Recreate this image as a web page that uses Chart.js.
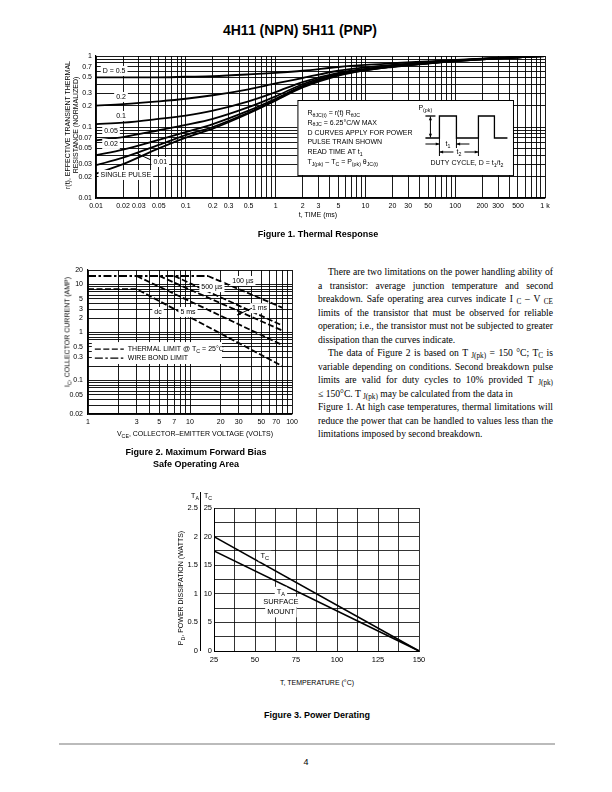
<!DOCTYPE html>
<html>
<head>
<meta charset="utf-8">
<title>4H11 (NPN) 5H11 (PNP)</title>
<script src="https://cdn.jsdelivr.net/npm/chart.js@4.4.1/dist/chart.umd.min.js"></script>
<style>
  body { margin: 0; background: #fff; }
  #page { position: relative; width: 612px; height: 792px; overflow: hidden; color: #000;
          font-family: "Liberation Sans Narrow", "Liberation Sans", Arial, sans-serif; }
  canvas { position: absolute; }
  .t { position: absolute; white-space: nowrap; transform: translate(-50%, -50%); }
  .rot { position: absolute; white-space: nowrap; text-align: center; transform: translate(-50%, -50%) rotate(-90deg); }
  .cap { font-family: "Liberation Sans", Arial, sans-serif; font-weight: bold; font-size: 9px; }
  .ax { font-size: 7px; }
  sub { font-size: 75%; vertical-align: -2px; line-height: 0; }
  #title { position: absolute; left: 300px; top: 30px; transform: translate(-50%, -50%);
           font-family: "Liberation Sans", Arial, sans-serif; font-weight: bold; font-size: 14px; white-space: nowrap; }
  #para { position: absolute; left: 318px; top: 265px; width: 235px;
          font-family: "Liberation Serif", "Times New Roman", serif; font-size: 9.6px; line-height: 13.5px; }
  #para div { text-align: justify; text-align-last: justify; }
  #para div.last { text-align-last: left; }
  #para div.ind { text-indent: 10px; }
  #footline { position: absolute; left: 59px; top: 743px; width: 496px; height: 2px; background: #bbb; }
</style>
</head>
<body>
<div id="page">
  <div id="title">4H11 (NPN) 5H11 (PNP)</div>

  <canvas id="fig1" width="520" height="170" style="left:40px; top:46px;"></canvas>
  <div class="rot ax" style="left:67px; top:125px;">r(t), EFFECTIVE TRANSIENT THERMAL</div>
  <div class="rot ax" style="left:75px; top:125px;">RESISTANCE (NORMALIZED)</div>
  <div class="t ax" style="left:318px; top:214px;">t, TIME (ms)</div>
  <div class="t cap" style="left:318px; top:234px;">Figure 1. Thermal Response</div>

  <canvas id="fig2" width="262" height="170" style="left:40px; top:260px;"></canvas>
  <div class="rot ax" style="left:67px; top:332px;">I<sub>C</sub>, COLLECTOR CURRENT (AMP)</div>
  <div class="t ax" style="left:195px; top:433px;">V<sub>CE</sub>, COLLECTOR&ndash;EMITTER VOLTAGE (VOLTS)</div>
  <div class="t cap" style="left:196px; top:452px;">Figure 2. Maximum Forward Bias</div>
  <div class="t cap" style="left:196px; top:464px;">Safe Operating Area</div>

  <div id="para">
    <div class="ind">There are two limitations on the power handling ability of</div>
    <div>a transistor: average junction temperature and second</div>
    <div>breakdown. Safe operating area curves indicate I <sub>C</sub> &ndash; V <sub>CE</sub></div>
    <div>limits of the transistor that must be observed for reliable</div>
    <div>operation; i.e., the transistor must not be subjected to greater</div>
    <div class="last">dissipation than the curves indicate.</div>
    <div class="ind">The data of Figure 2 is based on T <sub>J(pk)</sub> = 150 &deg;C; T<sub>C</sub> is</div>
    <div>variable depending on conditions. Second breakdown pulse</div>
    <div>limits are valid for duty cycles to 10% provided T <sub>J(pk)</sub></div>
    <div class="last">&le; 150&deg;C. T <sub>J(pk)</sub> may be calculated from the data in</div>
    <div>Figure 1. At high case temperatures, thermal limitations will</div>
    <div>reduce the power that can be handled to values less than the</div>
    <div class="last">limitations imposed by second breakdown.</div>
  </div>

  <canvas id="fig3" width="265" height="190" style="left:170px; top:480px;"></canvas>
  <div class="t ax" style="left:195px; top:495px;">T<sub>A</sub></div>
  <div class="t ax" style="left:208px; top:495px;">T<sub>C</sub></div>
  <div class="rot ax" style="left:180px; top:588px;">P<sub>D</sub>, POWER DISSIPATION (WATTS)</div>
  <div class="t ax" style="left:317px; top:682px;">T, TEMPERATURE (&deg;C)</div>
  <div class="t cap" style="left:317px; top:715px;">Figure 3. Power Derating</div>

  <div id="footline"></div>
  <div class="t" style="left:306px; top:762px; font-size:9px; font-family:'Liberation Sans',Arial,sans-serif;">4</div>
</div>

<script>
var FONT = '"Liberation Sans Narrow", "Liberation Sans", Arial, sans-serif';

// ================================
// DATA - Figure 1, thermal response (t in ms, r(t) normalized)
// ================================
var thermTime   = [0.01, 0.02, 0.05, 0.1, 0.2, 0.5, 1, 2, 5, 10, 20, 50, 100, 200, 500, 1000];
var thermD05    = [0.50, 0.50, 0.50, 0.51, 0.52, 0.55, 0.58, 0.62, 0.70, 0.75, 0.79, 0.84, 0.88, 0.92, 0.97, 1.0];
var thermD02    = [0.20, 0.21, 0.23, 0.25, 0.28, 0.34, 0.41, 0.49, 0.62, 0.69, 0.75, 0.82, 0.87, 0.91, 0.96, 1.0];
var thermD01    = [0.11, 0.115, 0.13, 0.145, 0.17, 0.23, 0.31, 0.43, 0.58, 0.66, 0.73, 0.80, 0.86, 0.91, 0.96, 1.0];
var thermD005   = [0.065, 0.072, 0.09, 0.107, 0.13, 0.19, 0.27, 0.40, 0.56, 0.65, 0.72, 0.80, 0.86, 0.91, 0.96, 1.0];
var thermD002   = [0.040, 0.048, 0.066, 0.085, 0.11, 0.17, 0.25, 0.38, 0.55, 0.64, 0.71, 0.79, 0.85, 0.90, 0.96, 1.0];
var thermD001   = [0.029, 0.037, 0.056, 0.077, 0.10, 0.16, 0.24, 0.37, 0.54, 0.63, 0.71, 0.79, 0.85, 0.90, 0.96, 1.0];
var thermSingle = [0.022, 0.030, 0.050, 0.071, 0.095, 0.155, 0.235, 0.36, 0.53, 0.63, 0.70, 0.78, 0.85, 0.90, 0.96, 1.0];
var thermTLabels = [0.01, 0.02, 0.03, 0.05, 0.1, 0.2, 0.3, 0.5, 1, 2, 3, 5, 10, 20, 30, 50, 100, 200, 300, 500, 1000];
var thermRLabels = [0.01, 0.02, 0.03, 0.05, 0.07, 0.1, 0.2, 0.3, 0.5, 0.7, 1];

// ================================
// DATA - Figure 2, safe operating area (V in volts, I in amps)
// ================================
var soaWireV  = [1, 15],    soaWireI  = [15, 15];
var soa100usV = [15, 80],   soa100usI = [15, 3.3];
var soa500usV = [7, 80],    soa500usI = [15, 1.4];
var soa1msV   = [5, 80],    soa1msI   = [15, 1.1];
var soa5msV   = [3, 80],    soa5msI   = [15, 0.55];
var soaDcV    = [1, 3, 80], soaDcI    = [8, 8, 0.2];
var soaVLabels = [1, 3, 5, 7, 10, 20, 30, 50, 70, 100];
var soaILabels = [0.02, 0.05, 0.1, 0.3, 0.5, 1, 2, 3, 5, 10, 20];

// ================================
// DATA - Figure 3, power derating
// ================================
var derateTemp = [25, 150];
var derateTC   = [20, 0];      // watts, case temperature
var derateTA   = [1.75, 0];    // watts, ambient (surface mount)
var derateTLabels  = [25, 50, 75, 100, 125, 150];
var derateTCLabels = [0, 5, 10, 15, 20, 25];
var derateTALabels = [0, 0.5, 1, 1.5, 2, 2.5];

// ================================
// HELPERS
// ================================
function pts(xs, ys) {
  return xs.map(function (x, i) { return { x: x, y: ys[i] }; });
}

function logGrid(min, max) {
  var out = [];
  for (var e = Math.floor(Math.log10(min)); e <= Math.ceil(Math.log10(max)); e++) {
    for (var m = 1; m <= 9; m++) {
      var v = parseFloat((m * Math.pow(10, e)).toPrecision(6));
      if (v >= min * 0.999 && v <= max * 1.001) out.push(v);
    }
  }
  return out;
}

function hasTick(list, v) {
  return list.some(function (l) { return Math.abs(l - v) <= Math.max(Math.abs(l), 1e-9) * 1e-6; });
}

function logAxis(min, max, labels, fmt, pad, fit) {
  return {
    type: 'logarithmic', min: min, max: max,
    afterBuildTicks: function (s) { s.ticks = logGrid(min, max).map(function (v) { return { value: v }; }); },
    ticks: { autoSkip: false, maxRotation: 0, minRotation: 0, padding: pad, color: '#000', font: { size: 7 },
             callback: function (v) { return hasTick(labels, v) ? fmt(v) : ''; } },
    grid: { color: '#000', lineWidth: 0.9, drawTicks: false },
    border: { display: true, color: '#000', width: 1.2 },
    afterFit: fit
  };
}

// draw text made of [string, isSubscript] parts
function drawParts(ctx, parts, x, y, size, align, bg) {
  var w = 0;
  parts.forEach(function (p) {
    ctx.font = (p[1] ? size * 0.75 : size) + 'px ' + FONT;
    w += ctx.measureText(p[0]).width;
  });
  var sx = align === 'center' ? x - w / 2 : (align === 'right' ? x - w : x);
  if (bg) {
    ctx.fillStyle = '#fff';
    ctx.fillRect(sx - 2, y - size / 2 - 1.5, w + 4, size + 3);
  }
  ctx.fillStyle = '#000';
  ctx.textAlign = 'left';
  ctx.textBaseline = 'middle';
  parts.forEach(function (p) {
    ctx.font = (p[1] ? size * 0.75 : size) + 'px ' + FONT;
    ctx.fillText(p[0], sx, y + (p[1] ? size * 0.3 : 0));
    sx += ctx.measureText(p[0]).width;
  });
}

function line(ctx, x1, y1, x2, y2) {
  ctx.beginPath(); ctx.moveTo(x1, y1); ctx.lineTo(x2, y2); ctx.stroke();
}

function arrow(ctx, x1, y1, x2, y2, s) {
  line(ctx, x1, y1, x2, y2);
  var a = Math.atan2(y2 - y1, x2 - x1);
  ctx.beginPath();
  ctx.moveTo(x2, y2);
  ctx.lineTo(x2 - s * Math.cos(a - 0.4), y2 - s * Math.sin(a - 0.4));
  ctx.lineTo(x2 - s * Math.cos(a + 0.4), y2 - s * Math.sin(a + 0.4));
  ctx.closePath(); ctx.fill();
}

Chart.defaults.font.family = FONT;
Chart.defaults.color = '#000';

var baseOptions = function (padding, scales) {
  return {
    responsive: false, animation: false, devicePixelRatio: 1,
    layout: { padding: padding },
    plugins: { legend: { display: false }, tooltip: { enabled: false } },
    elements: { point: { radius: 0 } },
    scales: scales
  };
};

// ================================
// FIGURE 1
// ================================
var fig1Notes = {
  id: 'fig1Notes',
  afterDatasetsDraw: function (chart) {
    var ctx = chart.ctx, xs = chart.scales.x, ys = chart.scales.y;
    var X = function (v) { return xs.getPixelForValue(v); };
    var Y = function (v) { return ys.getPixelForValue(v); };
    ctx.save();
    drawParts(ctx, [['D = 0.5', 0]], X(0.0159), Y(0.615), 7, 'center', true);
    drawParts(ctx, [['0.2', 0]], X(0.019), Y(0.265), 7, 'center', true);
    drawParts(ctx, [['0.1', 0]], X(0.019), Y(0.143), 7, 'center', true);
    drawParts(ctx, [['0.05', 0]], X(0.0147), Y(0.088), 7, 'center', true);
    drawParts(ctx, [['0.02', 0]], X(0.0147), Y(0.0577), 7, 'center', true);
    drawParts(ctx, [['0.01', 0]], X(0.052), Y(0.0321), 7, 'center', true);
    drawParts(ctx, [['SINGLE PULSE', 0]], X(0.0215), Y(0.0211), 7, 'center', true);
    ctx.strokeStyle = '#000'; ctx.lineWidth = 1;
    line(ctx, X(0.028), Y(0.043), X(0.041), Y(0.0343));

    // note box
    var bx = X(1.75), by = Y(0.24);
    var bw = X(440) - bx, bh = Y(0.021) - by;
    ctx.fillStyle = '#fff'; ctx.fillRect(bx, by, bw, bh);
    ctx.strokeRect(bx + 0.5, by + 0.5, bw, bh);
    var notes = [
      [['R', 0], ['\u03B8JC(t)', 1], [' = r(t) R', 0], ['\u03B8JC', 1]],
      [['R', 0], ['\u03B8JC', 1], [' = 6.25\u00B0C/W MAX', 0]],
      [['D CURVES APPLY FOR POWER', 0]],
      [['PULSE TRAIN SHOWN', 0]],
      [['READ TIME AT t', 0], ['1', 1]],
      [['T', 0], ['J(pk)', 1], [' \u2013 T', 0], ['C', 1], [' = P', 0], ['(pk)', 1], [' \u03B8', 0], ['JC(t)', 1]]
    ];
    notes.forEach(function (p, i) { drawParts(ctx, p, bx + 10, by + 13 + i * 9.8, 7, 'left', false); });

    // pulse train sketch
    ctx.lineWidth = 1.3;
    ctx.beginPath();
    var wave = [[128, 38], [142, 38], [142, 16], [159, 16], [159, 38], [181, 38], [181, 16], [197, 16], [197, 38], [210, 38]];
    wave.forEach(function (p, i) { if (i) ctx.lineTo(bx + p[0], by + p[1]); else ctx.moveTo(bx + p[0], by + p[1]); });
    ctx.stroke();
    line(ctx, bx + 128, by + 16, bx + 138, by + 16);
    ctx.lineWidth = 1;
    ctx.fillStyle = '#000';
    arrow(ctx, bx + 133, by + 27, bx + 133, by + 16.5, 4);
    arrow(ctx, bx + 133, by + 27, bx + 133, by + 37.5, 4);
    line(ctx, bx + 142, by + 38, bx + 142, by + 56);
    line(ctx, bx + 159, by + 38, bx + 159, by + 48);
    line(ctx, bx + 181, by + 38, bx + 181, by + 56);
    arrow(ctx, bx + 128, by + 44, bx + 142, by + 44, 4);
    arrow(ctx, bx + 172, by + 44, bx + 159, by + 44, 4);
    arrow(ctx, bx + 156, by + 52, bx + 142, by + 52, 4);
    arrow(ctx, bx + 167, by + 52, bx + 181, by + 52, 4);
    drawParts(ctx, [['P', 0], ['(pk)', 1]], bx + 121, by + 8, 7, 'left', false);
    drawParts(ctx, [['t', 0], ['1', 1]], bx + 150.5, by + 44, 7, 'center', false);
    drawParts(ctx, [['t', 0], ['2', 1]], bx + 161.5, by + 52, 7, 'center', false);
    drawParts(ctx, [['DUTY CYCLE, D = t', 0], ['1', 1], ['/t', 0], ['2', 1]], bx + 206, by + 63, 7, 'right', false);
    ctx.restore();
  }
};

var thermSeries = [thermD05, thermD02, thermD01, thermD005, thermD002, thermD001, thermSingle];
new Chart(document.getElementById('fig1'), {
  type: 'scatter',
  data: {
    datasets: thermSeries.map(function (s) {
      return { data: pts(thermTime, s), showLine: true, borderColor: '#000', borderWidth: 1.8,
               cubicInterpolationMode: 'monotone', pointRadius: 0 };
    })
  },
  options: baseOptions({ left: 8, top: 10, right: 15, bottom: 2 }, {
    x: logAxis(0.01, 1000, thermTLabels, function (v) { return v >= 1000 ? (v / 1000) + ' k' : String(v); }, 4,
               function (s) { s.height = 16; }),
    y: logAxis(0.01, 1, thermRLabels, function (v) { return String(v); }, 4,
               function (s) { s.width = 48; })
  }),
  plugins: [fig1Notes]
});

// ================================
// FIGURE 2
// ================================
var fig2Notes = {
  id: 'fig2Notes',
  afterDatasetsDraw: function (chart) {
    var ctx = chart.ctx, xs = chart.scales.x, ys = chart.scales.y;
    var X = function (v) { return xs.getPixelForValue(v); };
    var Y = function (v) { return ys.getPixelForValue(v); };
    ctx.save();
    drawParts(ctx, [['100 \u00B5s', 0]], X(33), Y(11.8), 7, 'center', true);
    drawParts(ctx, [['500 \u00B5s', 0]], X(16.4), Y(8.8), 7, 'center', true);
    drawParts(ctx, [['1 ms', 0]], X(48), Y(3.2), 7, 'center', true);
    drawParts(ctx, [['5 ms', 0]], X(9.55), Y(2.67), 7, 'center', true);
    drawParts(ctx, [['dc', 0]], X(4.86), Y(2.67), 7, 'center', true);
    ctx.strokeStyle = '#000'; ctx.fillStyle = '#000'; ctx.lineWidth = 1;
    arrow(ctx, X(40.5), Y(3.2), X(28.9), Y(2.3), 4);

    // legend box
    var bx = X(1.09), by = Y(0.63);
    var bw = X(20.6) - bx, bh = Y(0.22) - by;
    ctx.fillStyle = '#fff'; ctx.fillRect(bx, by, bw, bh);
    ctx.strokeStyle = '#000'; ctx.lineWidth = 1.3;
    ctx.setLineDash([6, 2.5]);
    line(ctx, bx + 3, by + 7, bx + 32, by + 7);
    ctx.setLineDash([8, 2.5, 2.5, 2.5]);
    line(ctx, bx + 3, by + 16, bx + 32, by + 16);
    ctx.setLineDash([]);
    drawParts(ctx, [['THERMAL LIMIT @ T', 0], ['C', 1], [' = 25\u00B0C', 0]], bx + 36, by + 7, 7, 'left', false);
    drawParts(ctx, [['WIRE BOND LIMIT', 0]], bx + 36, by + 16, 7, 'left', false);
    ctx.restore();
  }
};

var thermalDash = [6, 2.5];
var soaSets = [
  { data: pts(soaWireV, soaWireI), borderDash: [8, 2.5, 2.5, 2.5] },
  { data: pts(soa100usV, soa100usI), borderDash: thermalDash },
  { data: pts(soa500usV, soa500usI), borderDash: thermalDash },
  { data: pts(soa1msV, soa1msI), borderDash: thermalDash },
  { data: pts(soa5msV, soa5msI), borderDash: thermalDash },
  { data: pts(soaDcV, soaDcI), borderDash: thermalDash }
];
soaSets.forEach(function (d) { d.showLine = true; d.borderColor = '#000'; d.borderWidth = 1.8; d.pointRadius = 0; });

new Chart(document.getElementById('fig2'), {
  type: 'scatter',
  data: { datasets: soaSets },
  options: baseOptions({ left: 8, top: 10, right: 10, bottom: 2 }, {
    x: logAxis(1, 100, soaVLabels, function (v) { return String(v); }, 4, function (s) { s.height = 14; }),
    y: logAxis(0.02, 20, soaILabels, function (v) { return String(v); }, 5, function (s) { s.width = 40; })
  }),
  plugins: [fig2Notes]
});

// ================================
// FIGURE 3
// ================================
var fig3Notes = {
  id: 'fig3Notes',
  afterDatasetsDraw: function (chart) {
    var ctx = chart.ctx, xs = chart.scales.x, ys = chart.scales.yTC;
    var X = function (v) { return xs.getPixelForValue(v); };
    var Y = function (v) { return ys.getPixelForValue(v); };
    ctx.save();
    drawParts(ctx, [['T', 0], ['C', 1]], X(56), Y(16.6), 7.5, 'center', true);
    drawParts(ctx, [['T', 0], ['A', 1]], X(65.8), Y(10.3), 7.5, 'center', true);
    drawParts(ctx, [['SURFACE', 0]], X(65.8), Y(8.6), 7.5, 'center', true);
    drawParts(ctx, [['MOUNT', 0]], X(65.8), Y(6.8), 7.5, 'center', true);
    // divider between the two left scales
    var ca = chart.chartArea;
    ctx.strokeStyle = '#000'; ctx.lineWidth = 1;
    line(ctx, ca.left - 13.5, ca.top - 16, ca.left - 13.5, ca.bottom);
    ctx.restore();
  }
};

new Chart(document.getElementById('fig3'), {
  type: 'scatter',
  data: {
    datasets: [
      { data: pts(derateTemp, derateTC), yAxisID: 'yTC', showLine: true, borderColor: '#000', borderWidth: 1.6, pointRadius: 0 },
      { data: pts(derateTemp, derateTA), yAxisID: 'yTA', showLine: true, borderColor: '#000', borderWidth: 1.6, pointRadius: 0 }
    ]
  },
  options: baseOptions({ left: 6, top: 28, right: 16, bottom: 2 }, {
    x: {
      type: 'linear', min: 25, max: 150,
      ticks: { stepSize: 12.5, autoSkip: false, maxRotation: 0, padding: 4, font: { size: 7.5 },
               callback: function (v) { return hasTick(derateTLabels, v) ? String(v) : ''; } },
      grid: { color: '#000', lineWidth: 0.8, drawTicks: false },
      border: { display: true, color: '#000', width: 1 },
      afterFit: function (s) { s.height = 17; }
    },
    yTC: {
      type: 'linear', position: 'left', min: 0, max: 25, weight: 0,
      ticks: { stepSize: 2.5, autoSkip: false, padding: 2, font: { size: 7.5 },
               callback: function (v) { return hasTick(derateTCLabels, v) ? String(v) : ''; } },
      grid: { color: '#000', lineWidth: 0.8, drawTicks: false },
      border: { display: true, color: '#000', width: 1 },
      afterFit: function (s) { s.width = 14; }
    },
    yTA: {
      type: 'linear', position: 'left', min: 0, max: 2.5, weight: 1,
      ticks: { stepSize: 0.5, autoSkip: false, padding: 2, font: { size: 7.5 },
               callback: function (v) { return hasTick(derateTALabels, v) ? String(v) : ''; } },
      grid: { display: false, drawTicks: false },
      border: { display: false },
      afterFit: function (s) { s.width = 24; }
    }
  }),
  plugins: [fig3Notes]
});
</script>
</body>
</html>
